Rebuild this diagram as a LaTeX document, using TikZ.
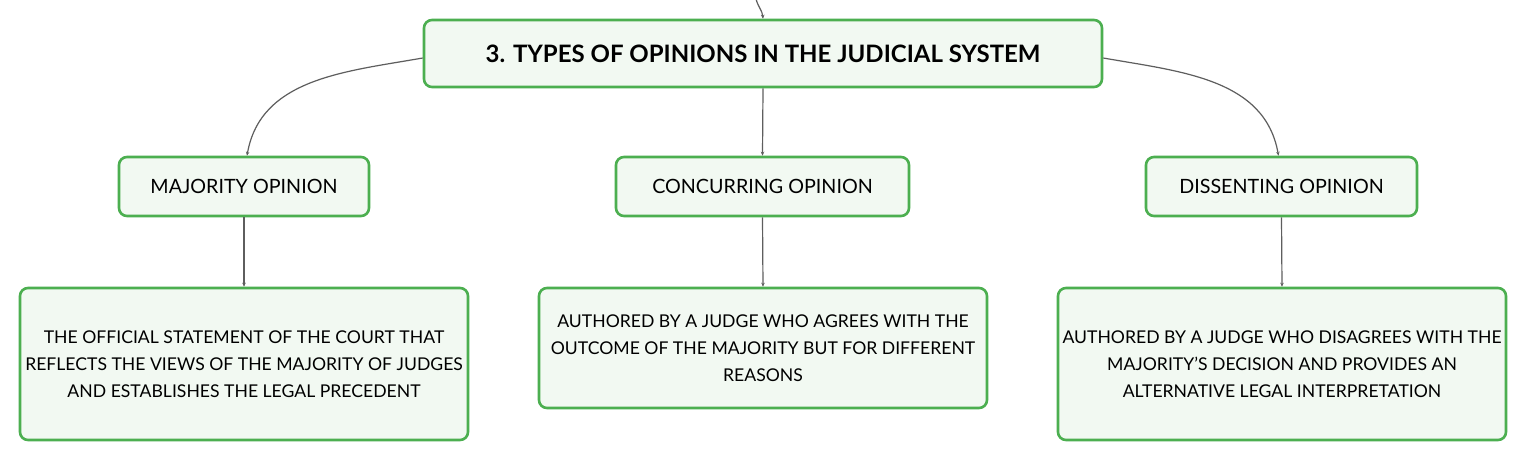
\documentclass[tikz,border=0pt]{standalone}
\usepackage{fontspec}
\setmainfont{Lato}
\usetikzlibrary{arrows.meta}
\definecolor{boxgreen}{HTML}{4CAF50}
\definecolor{boxfill}{HTML}{F2F9F2}
\definecolor{linkgrey}{HTML}{5E5E5E}
\tikzset{
  opbox/.style={draw=boxgreen, fill=boxfill, line width=2.6pt, rounded corners=8pt, align=center, inner sep=0pt},
  link/.style={draw=linkgrey, line width=1.2pt, -{Stealth[length=4pt,width=3.5pt]}}
}
\begin{document}
\begin{tikzpicture}[x=1pt,y=-1pt]
\useasboundingbox[fill=white] (0,0) rectangle (1527,461);
\node[opbox, minimum width=678pt, minimum height=67pt, font=\fontsize{24}{28}\selectfont\bfseries] (title) at (763,53.5) {3. TYPES OF OPINIONS IN THE JUDICIAL SYSTEM};
\node[opbox, minimum width=250pt, minimum height=59pt, font=\fontsize{19.7}{23}\selectfont] (major) at (244,186.5) {MAJORITY OPINION};
\node[opbox, minimum width=293pt, minimum height=59pt, font=\fontsize{19.7}{23}\selectfont] (concur) at (762.5,186.5) {CONCURRING OPINION};
\node[opbox, minimum width=271pt, minimum height=59pt, font=\fontsize{19.7}{23}\selectfont] (dissent) at (1281.5,186.5) {DISSENTING OPINION};
\node[opbox, minimum width=448pt, minimum height=152pt, font=\fontsize{17.6}{27}\selectfont] (majortext) at (244,364) {THE OFFICIAL STATEMENT OF THE COURT THAT\\REFLECTS THE VIEWS OF THE MAJORITY OF JUDGES\\AND ESTABLISHES THE LEGAL PRECEDENT};
\node[opbox, minimum width=448pt, minimum height=120pt, font=\fontsize{17.6}{27}\selectfont] (concurtext) at (763,348) {AUTHORED BY A JUDGE WHO AGREES WITH THE\\OUTCOME OF THE MAJORITY BUT FOR DIFFERENT\\REASONS};
\node[opbox, minimum width=448pt, minimum height=152pt, font=\fontsize{17.6}{27}\selectfont] (dissenttext) at (1282,364) {AUTHORED BY A JUDGE WHO DISAGREES WITH THE\\MAJORITY'S DECISION AND PROVIDES AN\\ALTERNATIVE LEGAL INTERPRETATION};
\coordinate (parent) at (756,-1);
\draw[link] (parent) to[out=-75,in=95] (title.north);
\draw[link] ([yshift=-4.5pt]title.west) to[out=190,in=80] ([xshift=3pt]major.north);
\draw[link] ([yshift=-4.5pt]title.east) to[out=-10,in=100] ([xshift=-3pt]dissent.north);
\draw[link] (title.south) -- (concur.north);
\draw[link] (major.south) -- (majortext.north);
\draw[link] (concur.south) -- (concurtext.north);
\draw[link] (dissent.south) -- (dissenttext.north);
\end{tikzpicture}
\end{document}
